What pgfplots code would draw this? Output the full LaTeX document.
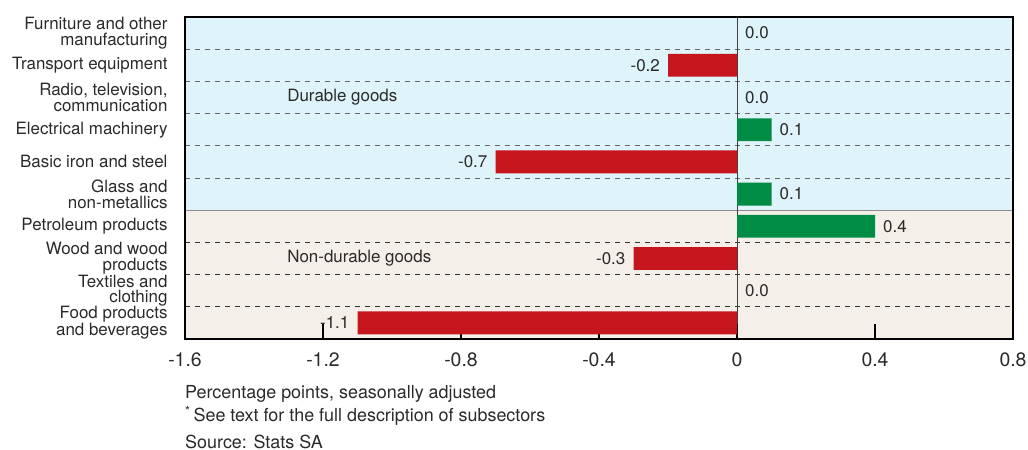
\documentclass[border=0pt]{standalone}
\usepackage{pgfplots}
\pgfplotsset{compat=1.18}
\usepackage{fontspec}
\setmainfont{TeX Gyre Heros}
\definecolor{bgblue}{HTML}{DFF3FA}
\definecolor{bgbeige}{HTML}{F4F0E9}
\definecolor{barred}{HTML}{C4161C}
\definecolor{bargreen}{HTML}{008C45}
\definecolor{txt}{HTML}{2A2A2A}
\newcommand{\lblfont}{\fontsize{17}{16}\selectfont}
\newcommand{\tickfont}{\fontsize{19.5}{19}\selectfont}
\newcommand{\footfont}{\fontsize{18}{17}\selectfont}
\begin{document}
\begin{tikzpicture}
\begin{axis}[
  at={(185bp,111bp)}, anchor=south west,
  scale only axis, width=828bp, height=322bp,
  xmin=-1.6, xmax=0.8, ymin=0.5, ymax=10.5,
  xtick={-1.6,-1.2,-0.8,-0.4,0,0.4,0.8},
  xticklabels={-1.6,-1.2,-0.8,-0.4,0,0.4,0.8},
  xtick pos=left,
  tick align=inside, major tick length=15bp,
  xtick style={black, line width=1.6bp},
  xticklabel style={font=\tickfont, text=txt, yshift=-10bp},
  ytick={1,...,10},
  yticklabels={{Food products\\and beverages},{Textiles and\\clothing},{Wood and wood\\products},{Petroleum products},{Glass and\\non-metallics},{Basic iron and steel},{Electrical machinery},{Radio, television,\\communication},{Transport equipment},{Furniture and other\\manufacturing}},
  ytick style={draw=none},
  yticklabel style={align=right, font=\lblfont, text=txt, xshift=1bp},
  axis line style={black, line width=2bp},
  set layers, clip=false,
  xbar, bar shift=0pt, bar width=0.71,
  nodes near coords={\pgfmathprintnumber[fixed,fixed zerofill,precision=1,assume math mode=true]{\pgfplotspointmeta}},
  nodes near coords align=horizontal,
  point meta=x,
  every node near coord/.append style={font=\lblfont, text=txt, inner xsep=8bp},
]
\begin{pgfonlayer}{axis background}
\fill[bgblue] (axis cs:-1.6,4.5) rectangle (axis cs:0.8,10.5);
\fill[bgbeige] (axis cs:-1.6,0.5) rectangle (axis cs:0.8,4.5);
\draw[dash pattern=on 5bp off 5bp, color=black!60, line width=0.8bp] (axis cs:-1.6,9.5) -- (axis cs:0.8,9.5);
\draw[dash pattern=on 5bp off 5bp, color=black!60, line width=0.8bp] (axis cs:-1.6,8.5) -- (axis cs:0.8,8.5);
\draw[dash pattern=on 5bp off 5bp, color=black!60, line width=0.8bp] (axis cs:-1.6,7.5) -- (axis cs:0.8,7.5);
\draw[dash pattern=on 5bp off 5bp, color=black!60, line width=0.8bp] (axis cs:-1.6,6.5) -- (axis cs:0.8,6.5);
\draw[dash pattern=on 5bp off 5bp, color=black!60, line width=0.8bp] (axis cs:-1.6,5.5) -- (axis cs:0.8,5.5);
\draw[color=black!45, line width=0.8bp] (axis cs:-1.6,4.5) -- (axis cs:0.8,4.5);
\draw[dash pattern=on 5bp off 5bp, color=black!80, line width=0.8bp] (axis cs:-1.6,3.5) -- (axis cs:0.8,3.5);
\draw[dash pattern=on 5bp off 5bp, color=black!80, line width=0.8bp] (axis cs:-1.6,2.5) -- (axis cs:0.8,2.5);
\draw[dash pattern=on 5bp off 5bp, color=black!80, line width=0.8bp] (axis cs:-1.6,1.5) -- (axis cs:0.8,1.5);
\draw[color=black!75, line width=0.9bp] (axis cs:0,0.5) -- (axis cs:0,10.5);
\end{pgfonlayer}
\addplot[fill=barred, draw=none] coordinates {(-0.2,9) (-0.7,6) (-0.3,3) (-1.1,1)};
\addplot[fill=bargreen, draw=none] coordinates {(0.1,7) (0.1,5) (0.4,4)};
\addplot[fill=none, draw=none] coordinates {(0,10) (0,8) (0,2)};
\node[anchor=west, font=\lblfont, text=txt, inner sep=0pt] at (axis cs:-1.304,8) {Durable goods};
\node[anchor=west, font=\lblfont, text=txt, inner sep=0pt] at (axis cs:-1.304,3) {Non-durable goods};
\end{axis}
\node[anchor=west, font=\footfont, text=txt, inner sep=0pt] at (185bp,56bp) {Percentage points, seasonally adjusted};
\node[anchor=west, font=\footfont, text=txt, inner sep=0pt] at (185bp,34bp) {\textsuperscript{*}\,See text for the full description of subsectors};
\node[anchor=west, font=\footfont, text=txt, inner sep=0pt] at (185bp,8.5bp) {Source: Stats SA};
\pgfresetboundingbox
\useasboundingbox (0,0) rectangle (1028bp,450bp);
\end{tikzpicture}
\end{document}
